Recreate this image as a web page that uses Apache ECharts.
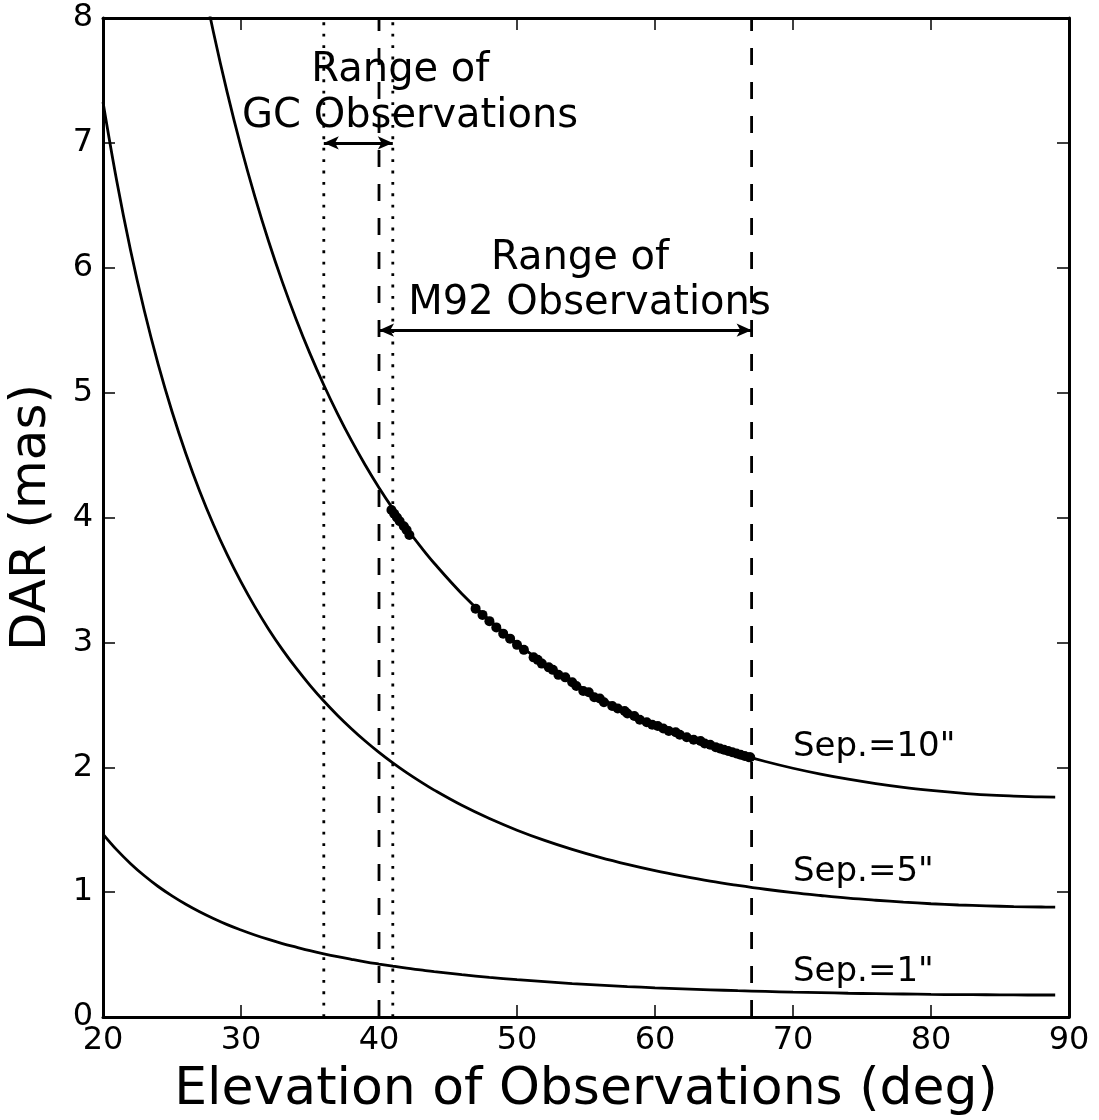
<!DOCTYPE html>
<html><head><meta charset="utf-8">
<script src="https://cdn.jsdelivr.net/npm/echarts@6/dist/echarts.min.js"></script>
<style>html,body{margin:0;padding:0;background:#fff}#c{width:1099px;height:1120px}</style>
</head><body><div id="c"></div>
<script>
// Elevation grid (deg)
const elevation = [20,21,22,23,24,25,26,27,28,29,30,31,32,33,34,35,36,37,38,39,40,41,42,43,44,
  46,48,50,52,54,56,58,60,62,64,66,68,70,72,74,76,78,80,82,84,86,88,89];
// DAR (mas)
const sep10 = [null,null,null,null,null,null,null,8.426,7.888,7.404,6.967,6.572,6.212,5.885,5.586,5.312,5.061,4.830,4.617,4.421,4.239,4.071,3.914,3.769,3.634,
  3.390,3.178,2.992,2.828,2.684,2.557,2.444,2.344,2.255,2.177,2.107,2.046,1.992,1.945,1.904,1.869,1.839,1.815,1.795,1.779,1.769,1.762,1.761];
const sep5 = [7.327,6.692,6.138,5.654,5.227,4.849,4.513,4.213,3.944,3.702,3.484,3.286,3.106,2.942,2.793,2.656,2.530,2.415,2.309,2.210,2.119,2.035,1.957,1.885,1.817,
  1.695,1.589,1.496,1.414,1.342,1.278,1.222,1.172,1.128,1.088,1.054,1.023,0.996,0.973,0.952,0.935,0.920,0.907,0.897,0.890,0.884,0.881,0.880];
const sep1 = [1.465,1.338,1.228,1.131,1.045,0.970,0.903,0.843,0.789,0.740,0.697,0.657,0.621,0.588,0.559,0.531,0.506,0.483,0.462,0.442,0.424,0.407,0.391,0.377,0.363,
  0.339,0.318,0.299,0.283,0.268,0.256,0.244,0.234,0.226,0.218,0.211,0.205,0.199,0.195,0.190,0.187,0.184,0.181,0.179,0.178,0.177,0.176,0.176];
// Observations (elevation, DAR)
const obsElev = [40.9,41.1,41.3,41.5,41.8,42.0,42.2,
  47.0,47.5,48.0,48.5,49.0,49.5,50.0,50.5,51.2,51.5,51.8,52.3,52.6,53.0,53.5,54.0,54.3,54.8,55.2,55.6,56.0,56.3,56.9,57.3,57.8,58.0,58.5,58.9,59.4,59.8,60.2,60.6,61.0,61.5,61.8,62.3,62.8,63.3,63.6,64.0,64.4,64.7,65.0,65.3,65.6,65.9,66.2,66.5,66.8,66.9];
const obsDAR = [4.06,4.03,4.00,3.97,3.93,3.90,3.86,
  3.27,3.22,3.17,3.12,3.07,3.03,2.98,2.94,2.88,2.86,2.83,2.80,2.78,2.74,2.72,2.68,2.65,2.61,2.60,2.56,2.55,2.52,2.49,2.47,2.45,2.43,2.41,2.38,2.36,2.34,2.33,2.31,2.29,2.28,2.26,2.24,2.22,2.21,2.19,2.18,2.16,2.15,2.14,2.13,2.12,2.11,2.10,2.09,2.08,2.08];
// Observation ranges (deg) and arrow levels (mas)
const gcRange = [36, 41];
const m92Range = [40, 67];
const gcArrowY = 7.0;
const m92ArrowY = 5.5;
// Text annotations
const noteTexts = ['Range of', 'GC Observations', 'Range of', 'M92 Observations'];
const noteX = [41.55, 42.25, 54.57, 55.25];
const noteY = [7.58, 7.21, 6.07, 5.71];
const sepTexts = ['Sep.=10"', 'Sep.=5"', 'Sep.=1"'];
const sepX = [70, 70, 70];
const sepY = [2.16, 1.16, 0.36];
// Axes
const xMin = 20, xMax = 90, xStep = 10;
const yMin = 0, yMax = 8, yStep = 1;

const FONT = 'DejaVu Sans';
const LW = 2.8;
const pair = (xs, ys) => xs.map((x, i) => [x, ys[i]]);

function curve(vals) {
  return {type:'line', data: pair(elevation, vals), showSymbol:false, symbol:'none',
    smooth:0.4, lineStyle:{color:'#000', width:LW}, z:3, silent:true};
}
function vline(x, dash) {
  return {type:'line', data:[[x, yMin],[x, yMax]], symbol:'none',
    lineStyle:{color:'#000', width:LW, type:dash, cap:'butt'}, z:2, silent:true};
}
function arrow(r, y) {
  return {type:'line', data:[], markLine:{silent:true, symbol:['arrow','arrow'], symbolSize:[10,15],
    label:{show:false}, lineStyle:{color:'#000', width:LW, type:'solid'},
    data:[[{coord:[r[0], y]},{coord:[r[1], y]}]]}};
}
function texts(tx, xs, ys, align, size) {
  return {type:'scatter', symbolSize:1, itemStyle:{color:'rgba(0,0,0,0)', opacity:1}, silent:true, z:5,
    data: tx.map((t,i)=>({name:t, value:[xs[i], ys[i]]})),
    label:{show:true, position:'inside', align:align, verticalAlign:'middle', opacity:1,
      formatter: p=>p.name, color:'#000', fontFamily:FONT, fontSize:size}};
}

const axisLine = {onZero:false, lineStyle:{color:'#000', width:3}};
const tick = {inside:true, length:12, lineStyle:{color:'#000', width:1.5}};

const chart = echarts.init(document.getElementById('c'), null, {renderer:'canvas'});
chart.setOption({
  animation:false,
  backgroundColor:'#fff',
  grid:{left:103, right:30, top:18, bottom:103, containLabel:false, outerBoundsMode:'none'},
  xAxis:[
    {type:'value', min:xMin, max:xMax, interval:xStep, position:'bottom',
     axisLine:axisLine, axisTick:tick, splitLine:{show:false},
     axisLabel:{fontSize:32, color:'#000', fontFamily:FONT, margin:8, showMinLabel:true, showMaxLabel:true},
     name:'Elevation of Observations (deg)', nameLocation:'middle', nameGap:47,
     nameTextStyle:{fontSize:52, color:'#000', fontFamily:FONT}},
    {type:'value', min:xMin, max:xMax, interval:xStep, position:'top',
     axisLine:axisLine, axisTick:tick, splitLine:{show:false}, axisLabel:{show:false}}
  ],
  yAxis:[
    {type:'value', min:yMin, max:yMax, interval:yStep, position:'left',
     axisLine:axisLine, axisTick:tick, splitLine:{show:false},
     axisLabel:{fontSize:32, color:'#000', fontFamily:FONT, margin:10, showMinLabel:true, showMaxLabel:true},
     name:'DAR (mas)', nameLocation:'middle', nameGap:46,
     nameTextStyle:{fontSize:50, color:'#000', fontFamily:FONT}},
    {type:'value', min:yMin, max:yMax, interval:yStep, position:'right',
     axisLine:axisLine, axisTick:tick, splitLine:{show:false}, axisLabel:{show:false}}
  ],
  series:[
    curve(sep10), curve(sep5), curve(sep1),
    vline(gcRange[0], [2.85, 8.55]), vline(gcRange[1], [2.85, 8.55]),
    vline(m92Range[0], [17, 17]), vline(m92Range[1], [17, 17]),
    arrow(gcRange, gcArrowY), arrow(m92Range, m92ArrowY),
    {type:'scatter', data: pair(obsElev, obsDAR), symbol:'circle', symbolSize:10,
     itemStyle:{color:'#000', opacity:1}, z:4, silent:true},
    texts(noteTexts, noteX, noteY, 'center', 40),
    texts(sepTexts, sepX, sepY, 'left', 34)
  ]
});
</script></body></html>
